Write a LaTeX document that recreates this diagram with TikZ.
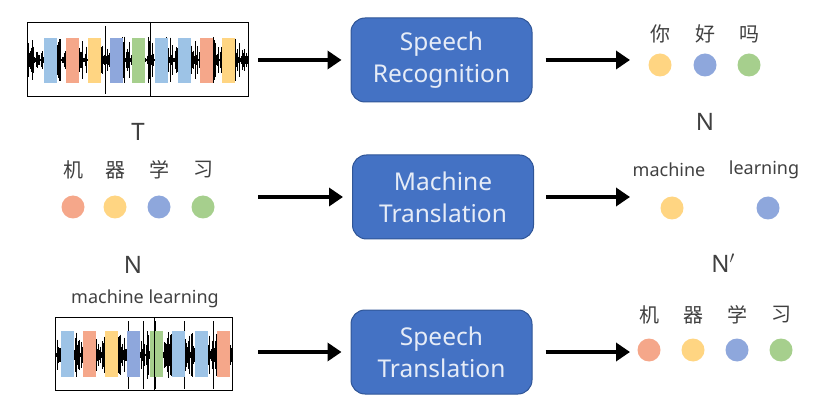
\documentclass[tikz,border=0pt]{standalone}
\usepackage{fontspec}
\setmainfont{Noto Sans}
\newfontfamily\cjk{Noto Sans CJK SC}
\usetikzlibrary{arrows.meta}
\definecolor{cSal}{HTML}{F5A78A}
\definecolor{cYel}{HTML}{FFD582}
\definecolor{cPur}{HTML}{8EA7DC}
\definecolor{cGrn}{HTML}{A6CF8D}
\definecolor{cLb}{HTML}{9DC3E6}
\definecolor{boxFill}{HTML}{4472C4}
\definecolor{boxLine}{HTML}{2F5597}
\definecolor{boxText}{HTML}{E6ECF7}

\begin{document}
\begin{tikzpicture}[x=1pt,y=-1pt,
  task/.style={draw=boxLine,line width=1pt,fill=boxFill,rounded corners=14pt,
    minimum width=181pt,minimum height=84pt,align=center,text=boxText,
    font=\fontsize{24.5}{32}\selectfont},
  arr/.style={line width=4pt,-{Triangle[length=14pt,width=18pt]}},
  dot/.style={circle,inner sep=0pt,minimum size=23pt},
  zh/.style={font=\cjk\fontsize{20}{22}\selectfont,text=black!75},
  lbl/.style={font=\fontsize{18}{20}\selectfont,text=black!75},
  big/.style={font=\fontsize{24}{26}\selectfont,text=black!75},
  bar/.style={minimum width=13pt,minimum height=45pt,inner sep=0pt}]
  \useasboundingbox (0,0) rectangle (832,403);
   % waveforms
  \pgfmathsetseed{11}
  \draw[line width=.8pt] (27,60) -- (248,60) (55,355) -- (232,355);
  \foreach \x in {28,28.5,...,247}{%noise of the first clip
    \pgfmathsetmacro\h{rnd>0.99 ? 34 : (1+23*rnd^2)*(0.25+0.75*abs(sin(\x*8)))}
    \draw[line width=.55pt] (\x,60-\h) -- (\x,60+\h);
  }
  \foreach \x in {56,56.5,...,232}{%noise of the second clip
    \pgfmathsetmacro\h{rnd>0.99 ? 34 : (1+23*rnd^2)*(0.25+0.75*abs(sin(\x*8)))}
    \draw[line width=.55pt] (\x,355-\h) -- (\x,355+\h);
  }
  \foreach \x/\col in {44/cLb,66/cSal,88/cYel,110/cPur,132/cGrn,155/cLb,178/cLb,200/cSal,222/cYel}
    \node[bar,fill=\col,anchor=north west] at (\x,38) {};
  \foreach \x/\col in {61/cLb,83/cSal,105/cYel,127/cPur,150/cGrn,172/cLb,195/cLb,217/cSal}
    \node[bar,fill=\col,anchor=north west,minimum height=46pt] at (\x,331) {};
  \draw[thick] (27,22) rectangle (248,96) (150,22) -- (150,96);
  \draw[thick] (55,317) rectangle (232,390) (154,317) -- (154,390);
  \node[lbl] (mlIn) at (145,299) {machine learning};

  % tasks
  \node[task] (sr) at (441.5,60) {Speech\\Recognition};
  \node[task] (mt) at (443,197) {Machine\\Translation};
  \node[task] (st) at (441.5,352) {Speech\\Translation};

  \coordinate (in1) at (258,60);  \coordinate (out1) at (630,60);
  \coordinate (in2) at (258,197); \coordinate (out2) at (630,197);
  \coordinate (in3) at (258,352); \coordinate (out3) at (630,352);
  \draw[arr,shorten >=9pt] (in1) -- (sr.west);
  \draw[arr,shorten <=13pt] (sr.east) -- (out1);
  \draw[arr,shorten >=9pt] (in2) -- (mt.west);
  \draw[arr,shorten <=12pt] (mt.east) -- (out2);
  \draw[arr,shorten >=9pt] (in3) -- (st.west);
  \draw[arr,shorten <=13pt] (st.east) -- (out3);

  % tokens
  \foreach \c/\x/\col [count=\i] in {机/73/cSal,器/115/cYel,学/159/cPur,习/203/cGrn}{
    \node[zh] (src\i) at (\x,170) {\c};
    \node[dot,fill=\col] (srcDot\i) at (\x,207) {};
  }
  \foreach \c/\x/\col [count=\i] in {你/660/cYel,好/705/cPur,吗/749/cGrn}{
    \node[zh] (asr\i) at (\x,34) {\c};
    \node[dot,fill=\col] (asrDot\i) at (\x,65) {};
  }
  \foreach \c/\x/\col [count=\i] in {机/649/cSal,器/693/cYel,学/737/cPur,习/781/cGrn}{
    \node[zh] (tgt\i) at (\x,315) {\c};
    \node[dot,fill=\col] (tgtDot\i) at (\x,350) {};
  }
  \node[lbl] (w1) at (669,170) {machine};
  \node[lbl] (w2) at (764,170) {learning};
  \node[dot,fill=cYel] (wDot1) at (672,208) {};
  \node[dot,fill=cPur] (wDot2) at (768,208) {};

  \node[big] (T) at (138,132) {T};
  \node[big] (N1) at (133,265) {N};
  \node[big] (N2) at (705,122) {N};
  \node[big] (N3) at (723,263) {N$'$};
\end{tikzpicture}
\end{document}
